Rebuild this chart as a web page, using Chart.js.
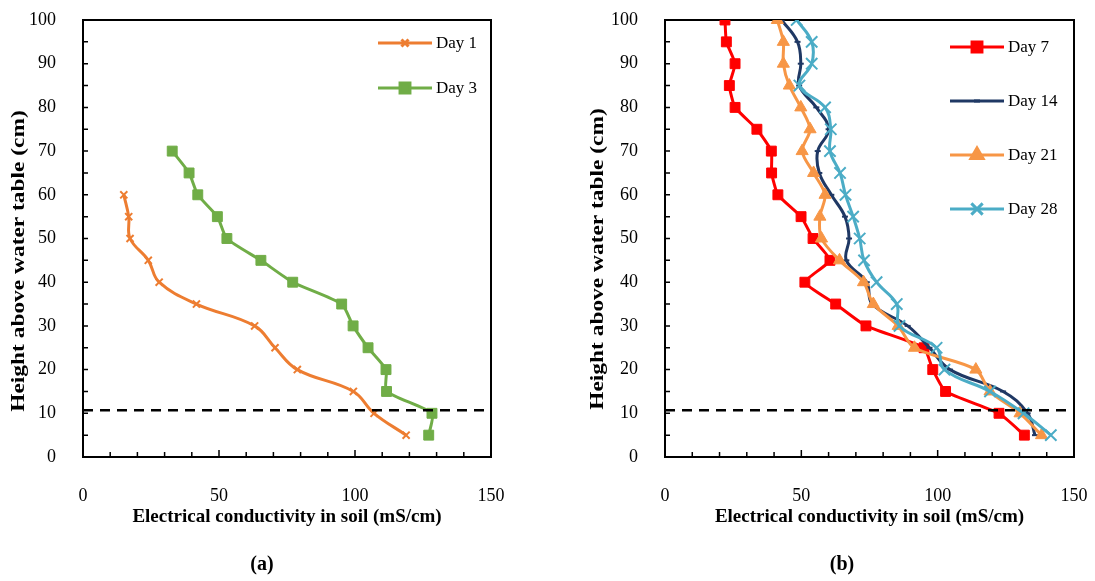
<!DOCTYPE html>
<html>
<head>
<meta charset="utf-8">
<script src="https://cdn.jsdelivr.net/npm/chart.js@4.4.1/dist/chart.umd.min.js"></script>
<style>
  body { margin: 0; background: #fff; width: 1095px; height: 581px; position: relative; overflow: hidden; }
  canvas { position: absolute; top: 0; }
  #chart-a { left: 0; }
  #chart-b { left: 547px; }
  .caption { position: absolute; top: 552px; width: 60px; text-align: center; font: bold 20px "Liberation Serif"; }
</style>
</head>
<body>
<canvas id="chart-a" width="547" height="581"></canvas>
<canvas id="chart-b" width="548" height="581"></canvas>
<div class="caption" style="left:232px">(a)</div>
<div class="caption" style="left:812px">(b)</div>
<script>
// (a) early days
const heightsDay1 = [60, 55, 50, 45, 40, 35, 30, 25, 20, 15, 10, 5];
const day1 = [15, 16.8, 17.3, 24, 28, 41.7, 63.1, 70.6, 78.8, 99.4, 107, 118.8];
const heightsDay3 = [70, 65, 60, 55, 50, 45, 40, 35, 30, 25, 20, 15, 10, 5];
const day3 = [32.8, 39, 42.2, 49.4, 52.9, 65.4, 77.1, 95.1, 99.3, 104.8, 111.4, 111.6, 128.3, 127.1];

// (b) later days
const heightsB = [100, 95, 90, 85, 80, 75, 70, 65, 60, 55, 50, 45, 40, 35, 30, 25, 20, 15, 10, 5];
const day7 = [22, 22.5, 25.7, 23.6, 25.7, 33.7, 39, 39.1, 41.4, 49.9, 54.3, 60.5, 51.3, 62.6, 73.7, 95, 98.2, 102.9, 122.5, 131.8];
const day14 = [42.8, 48.6, 49.8, 49.2, 55.5, 60, 56, 56.6, 61, 66, 67.5, 66.5, 74, 76, 89, 97, 104.5, 124, 133, 135.7];
const day21 = [41.2, 43.4, 43.4, 45.6, 49.8, 53.2, 50.3, 54.5, 58.7, 56.8, 57.4, 64, 72.8, 76.4, 85.5, 91.5, 114, 119.2, 130.2, 138.1];
const day28 = [48.3, 53.8, 53.8, 49.3, 58.7, 60.8, 60.5, 64.2, 66.2, 69, 71.4, 73, 77.6, 85, 86, 99.6, 102.5, 119.2, 131.5, 141.5];

// water table marker
const waterTableX = [0, 150];
const waterTableY = [10.7, 10.7];

const xRange = [0, 150];
const yRange = [0, 100];
const xTitle = 'Electrical conductivity in soil (mS/cm)';
const yTitle = 'Height above water table (cm)';

Chart.defaults.font.family = '"Liberation Serif", "Times New Roman", serif';
Chart.defaults.color = '#000';

function pairs(xs, ys) {
  return xs.map((x, i) => ({ x: x, y: ys[i] }));
}

const framePlugin = {
  id: 'frame',
  beforeDatasetsDraw(chart) {
    const { ctx, chartArea: a, scales } = chart;
    ctx.save();
    ctx.strokeStyle = '#000';
    ctx.lineWidth = 2;
    ctx.strokeRect(a.left, a.top, a.right - a.left, a.bottom - a.top);
    ctx.lineWidth = 1.5;
    ctx.beginPath();
    for (let v = 10; v < xRange[1]; v += 10) {
      const px = scales.x.getPixelForValue(v);
      const len = v % 50 === 0 ? 7 : 5;
      ctx.moveTo(px, a.bottom);
      ctx.lineTo(px, a.bottom - len);
    }
    for (let v = 5; v < yRange[1]; v += 5) {
      const py = scales.y.getPixelForValue(v);
      ctx.moveTo(a.left, py);
      ctx.lineTo(a.left + 5, py);
    }
    ctx.stroke();
    ctx.restore();
  }
};

// the original y title is drawn taller than its font, so stretch it along the text
const yTitlePlugin = {
  id: 'yTitle',
  afterDraw(chart, args, opts) {
    const ctx = chart.ctx;
    ctx.save();
    ctx.translate(opts.x, opts.y);
    ctx.rotate(-Math.PI / 2);
    ctx.scale(opts.stretch, 1);
    ctx.font = 'bold 18px "Liberation Serif"';
    ctx.textAlign = 'center';
    ctx.textBaseline = 'middle';
    ctx.fillStyle = '#000';
    ctx.fillText(yTitle, 0, 0);
    ctx.restore();
  }
};

const legendPlugin = {
  id: 'innerLegend',
  afterDraw(chart, args, opts) {
    const ctx = chart.ctx;
    ctx.save();
    ctx.font = '17px "Liberation Serif"';
    ctx.textBaseline = 'middle';
    let y = opts.top;
    chart.data.datasets.forEach(ds => {
      if (ds.noLegend) return;
      ctx.strokeStyle = ds.borderColor;
      ctx.lineWidth = ds.borderWidth;
      ctx.beginPath();
      ctx.moveTo(opts.left, y);
      ctx.lineTo(opts.left + 54, y);
      ctx.stroke();
      ctx.fillStyle = ds.pointBackgroundColor;
      ctx.strokeStyle = ds.pointBorderColor;
      Chart.helpers.drawPoint(ctx, {
        pointStyle: ds.pointStyle,
        radius: ds.pointRadius,
        borderWidth: ds.pointBorderWidth,
        rotation: 0
      }, opts.left + 27, y);
      ctx.fillStyle = '#000';
      ctx.fillText(ds.label, opts.left + 58, y + 1);
      y += opts.step;
    });
    ctx.restore();
  }
};

function series(label, xs, ys, color, style, radius, tension, order) {
  return {
    label: label,
    data: pairs(xs, ys),
    showLine: true,
    borderColor: color,
    borderWidth: 3,
    tension: tension,
    pointStyle: style,
    pointRadius: radius,
    pointBackgroundColor: color,
    pointBorderColor: color,
    pointBorderWidth: style === 'crossRot' || style === 'line' ? 2 : 1,
    order: order
  };
}

function waterTable() {
  return {
    label: 'water table',
    noLegend: true,
    data: pairs(waterTableX, waterTableY),
    showLine: true,
    borderColor: '#000',
    borderWidth: 2.5,
    borderDash: [10, 7],
    pointRadius: 0,
    order: 0
  };
}

function makeOptions(yWidth, rightPad, legend, titlePos) {
  return {
    responsive: false,
    animation: false,
    events: [],
    layout: { autoPadding: false, padding: { left: 0, top: 20, right: rightPad, bottom: 53 } },
    plugins: {
      legend: { display: false },
      tooltip: { enabled: false },
      innerLegend: legend,
      yTitle: titlePos
    },
    scales: {
      x: {
        type: 'linear',
        min: xRange[0],
        max: xRange[1],
        grid: { display: false, drawTicks: false },
        border: { display: false },
        ticks: { stepSize: 50, padding: 28, font: { size: 18 } },
        title: {
          display: true,
          text: xTitle,
          font: { size: 19, weight: 'bold' },
          padding: { top: 0, bottom: 0 }
        },
        afterFit(scale) {
          scale.height = 71;
          scale.paddingLeft = 0;
          scale.paddingRight = 0;
        }
      },
      y: {
        type: 'linear',
        min: yRange[0],
        max: yRange[1],
        grid: { display: false, drawTicks: false },
        border: { display: false },
        ticks: { stepSize: 10, padding: 27, font: { size: 18 } },
        afterFit(scale) {
          scale.width = yWidth;
          scale.paddingTop = 0;
          scale.paddingBottom = 0;
        }
      }
    }
  };
}

new Chart(document.getElementById('chart-a'), {
  type: 'scatter',
  data: {
    datasets: [
      series('Day 1', day1, heightsDay1, '#ED7D31', 'crossRot', 5, 0.4, 2),
      series('Day 3', day3, heightsDay3, '#70AD47', 'rect', 7, 0.2, 1),
      waterTable()
    ]
  },
  options: makeOptions(83, 56, { left: 378, top: 43, step: 45 }, { x: 19, y: 261, stretch: 1.3 }),
  plugins: [framePlugin, legendPlugin, yTitlePlugin]
});

new Chart(document.getElementById('chart-b'), {
  type: 'scatter',
  data: {
    datasets: [
      series('Day 7', day7, heightsB, '#FF0000', 'rect', 7, 0.15, 4),
      series('Day 14', day14, heightsB, '#1F3864', 'line', 3, 0.4, 3),
      series('Day 21', day21, heightsB, '#F79646', 'triangle', 7, 0.3, 2),
      series('Day 28', day28, heightsB, '#4BACC6', 'crossRot', 8, 0.4, 1),
      waterTable()
    ]
  },
  options: makeOptions(118, 21, { left: 403, top: 47, step: 54 }, { x: 51, y: 259, stretch: 1.3 }),
  plugins: [framePlugin, legendPlugin, yTitlePlugin]
});
</script>
</body>
</html>
